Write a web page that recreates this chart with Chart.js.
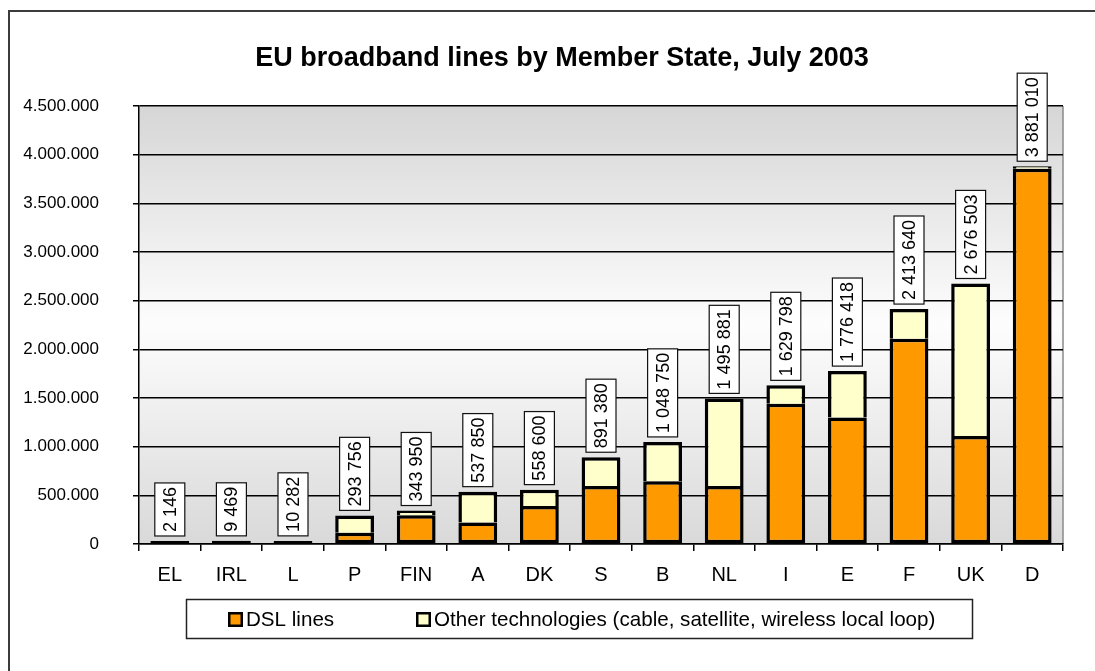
<!DOCTYPE html>
<html>
<head>
<meta charset="utf-8">
<script src="https://cdn.jsdelivr.net/npm/chart.js@4.4.0/dist/chart.umd.min.js"></script>
<style>
  html, body { margin: 0; padding: 0; background: #fff; }
  #wrap { position: relative; width: 1095px; height: 671px; overflow: hidden; }
  #frame { position: absolute; left: 8px; top: 10px; width: 1200px; height: 800px;
           border-left: 2px solid #3c3c3c; border-top: 2px solid #3c3c3c; }
  #c { position: absolute; left: 0; top: 0; }
</style>
</head>
<body>
<div id="wrap">
  <div id="frame"></div>
  <canvas id="c" width="1095" height="671"></canvas>
</div>
<script>
// Broadband lines per Member State, July 2003
const memberStates = ['EL', 'IRL', 'L', 'P', 'FIN', 'A', 'DK', 'S', 'B', 'NL', 'I', 'E', 'F', 'UK', 'D'];
const dslLines   = [2000, 8000, 9000, 115000, 295000, 220000, 390000, 595000, 645000, 595000, 1440000, 1300000, 2110000, 1110000, 3855000];
const otherLines = [146, 1469, 1282, 178756, 48950, 317850, 168600, 296380, 403750, 900881, 189798, 476418, 303640, 1566503, 26010];
const seriesNames = ['DSL lines', 'Other technologies (cable, satellite, wireless local loop)'];
const chartTitle = 'EU broadband lines by Member State, July 2003';
const yMax = 4500000;
const yStep = 500000;

const FONT = '"Liberation Sans", Arial, sans-serif';
const fmtDot = v => String(v).replace(/\B(?=(\d{3})+(?!\d))/g, '.');
const fmtSpace = v => String(v).replace(/\B(?=(\d{3})+(?!\d))/g, ' ');

// Grey-white-grey wash behind the plot area, plus its right edge
const plotBackground = {
  id: 'plotBackground',
  beforeDraw(chart) {
    const { ctx, chartArea: a } = chart;
    const g = ctx.createLinearGradient(0, a.top, 0, a.bottom);
    g.addColorStop(0, '#d6d6d6');
    g.addColorStop(0.5, '#fdfdfd');
    g.addColorStop(1, '#d9d9d9');
    ctx.save();
    ctx.fillStyle = g;
    ctx.fillRect(a.left, a.top, a.right - a.left, a.bottom - a.top);
    ctx.strokeStyle = '#8a8a8a';
    ctx.lineWidth = 1.5;
    ctx.beginPath();
    ctx.moveTo(a.right, a.top);
    ctx.lineTo(a.right, a.bottom);
    ctx.stroke();
    ctx.restore();
  }
};

// Boxed, rotated total above each stacked column
const totalLabels = {
  id: 'totalLabels',
  afterDatasetsDraw(chart) {
    const { ctx } = chart;
    const m0 = chart.getDatasetMeta(0).data;
    const m1 = chart.getDatasetMeta(1).data;
    ctx.save();
    ctx.font = '18px ' + FONT;
    m1.forEach((bar, i) => {
      const txt = fmtSpace(dslLines[i] + otherLines[i]);
      const tw = ctx.measureText(txt).width;
      const w = 30, h = tw + 8;
      const top = Math.min(bar.y, m0[i].y);
      const bottom = top - 5;
      ctx.fillStyle = '#fff';
      ctx.fillRect(bar.x - w / 2, bottom - h, w, h);
      ctx.strokeStyle = '#111';
      ctx.lineWidth = 1.2;
      ctx.strokeRect(bar.x - w / 2, bottom - h, w, h);
      ctx.save();
      ctx.translate(bar.x, bottom - h / 2);
      ctx.rotate(-Math.PI / 2);
      ctx.fillStyle = '#000';
      ctx.textAlign = 'center';
      ctx.textBaseline = 'middle';
      ctx.fillText(txt, 0, 1);
      ctx.restore();
    });
    ctx.restore();
  }
};

// Title and boxed legend
const titleAndLegend = {
  id: 'titleAndLegend',
  afterDraw(chart) {
    const { ctx } = chart;
    ctx.save();
    ctx.fillStyle = '#000';
    ctx.font = 'bold 27px ' + FONT;
    ctx.textAlign = 'center';
    ctx.textBaseline = 'middle';
    ctx.fillText(chartTitle, 562, 59);

    // legend frame
    ctx.strokeStyle = '#222';
    ctx.lineWidth = 1.5;
    ctx.strokeRect(186.5, 599.5, 786, 39);

    const items = [
      { x: 228, color: chart.data.datasets[0].backgroundColor, text: seriesNames[0] },
      { x: 416, color: chart.data.datasets[1].backgroundColor, text: seriesNames[1] }
    ];
    ctx.font = '20.6px ' + FONT;
    ctx.textAlign = 'left';
    items.forEach(it => {
      ctx.fillStyle = '#000';
      ctx.fillRect(it.x, 612, 15, 15);
      ctx.fillStyle = it.color;
      ctx.fillRect(it.x + 2.5, 614.5, 10, 10);
      ctx.fillStyle = '#000';
      ctx.fillText(it.text, it.x + 18, 620);
    });
    ctx.restore();
  }
};

new Chart(document.getElementById('c'), {
  type: 'bar',
  data: {
    labels: memberStates,
    datasets: [
      {
        label: seriesNames[0],
        data: dslLines,
        backgroundColor: '#ff9900',
        borderColor: '#000',
        borderWidth: 3.5,
        borderSkipped: false,
        minBarLength: 3,
        barPercentage: 0.63,
        categoryPercentage: 1
      },
      {
        label: seriesNames[1],
        data: otherLines,
        backgroundColor: '#ffffcc',
        borderColor: '#000',
        borderWidth: 3.5,
        borderSkipped: 'bottom',
        barPercentage: 0.63,
        categoryPercentage: 1
      }
    ]
  },
  options: {
    responsive: false,
    animation: false,
    devicePixelRatio: 1,
    layout: { padding: { left: 0, right: 32, top: 106, bottom: 77 } },
    plugins: {
      legend: { display: false },
      title: { display: false },
      tooltip: { enabled: false }
    },
    scales: {
      x: {
        stacked: true,
        grid: { display: true, drawOnChartArea: false, drawTicks: true, tickLength: 7,
                color: '#000', lineWidth: 1.5, offset: true },
        border: { display: true, color: '#000', width: 1.5 },
        ticks: { color: '#000', font: { family: FONT, size: 20 }, padding: 12,
                 maxRotation: 0, autoSkip: false },
        afterFit(s) { s.height = 50; }
      },
      y: {
        stacked: true,
        min: 0,
        max: yMax,
        ticks: { stepSize: yStep, padding: 34, color: '#000',
                 font: { family: FONT, size: 17 }, callback: v => fmtDot(v) },
        grid: { color: '#000', lineWidth: 1.5, tickLength: 6 },
        border: { display: true, color: '#000', width: 1.5 },
        afterFit(s) { s.width = 139; }
      }
    }
  },
  plugins: [plotBackground, totalLabels, titleAndLegend]
});
</script>
</body>
</html>
